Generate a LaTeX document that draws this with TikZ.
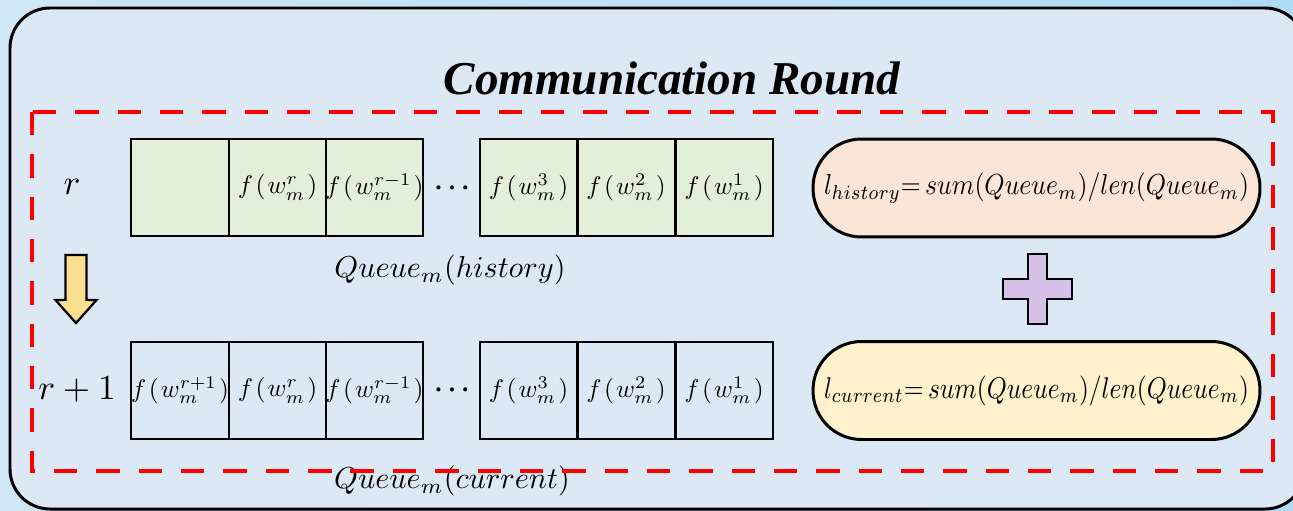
\documentclass[tikz,border=0pt]{standalone}
\usepackage{fontspec}
\newfontfamily\titlefont{Liberation Serif}
\usepackage{graphicx}
\definecolor{outerbgL}{HTML}{CFE6F6}
\definecolor{outerbgR}{HTML}{AEDBF5}
\definecolor{boxfill}{HTML}{DCE9F5}
\definecolor{cellgreen}{HTML}{E2EFDA}
\definecolor{peach}{HTML}{FBE5D6}
\definecolor{cream}{HTML}{FFF2CC}
\definecolor{plusfill}{HTML}{D5C0E8}
\definecolor{arrowfill}{HTML}{FDE08F}
\newcommand{\celltxt}[1]{\makebox[0pt]{\scalebox{1.45}{$#1$}}}
\newcommand{\fw}[1]{\celltxt{f\mkern1.8mu(\mkern1.5mu w_m^{#1}\mkern1.5mu)}}
\newcommand{\rowtxt}[1]{\scalebox{2.0}{$#1$}}
\newcommand{\queuetxt}[1]{\scalebox{1.72}{$#1$}}
\newcommand{\dotstxt}{\scalebox{1.5}{\boldmath$\cdots$}}
\newcommand{\pilltxt}[1]{\resizebox*{8.5cm}{0.6cm}{$#1$}}
\tikzset{
  cell/.style={draw=black, line width=1.4pt, minimum width=1.95cm, minimum height=1.94cm, inner sep=0pt},
  greencell/.style={cell, fill=cellgreen},
  plaincell/.style={cell},
  pill/.style={draw=black, line width=1.7pt, rounded corners=0.97cm, minimum width=8.94cm, minimum height=1.96cm, inner sep=0pt},
  lbl/.style={inner sep=0pt},
  reddash/.style={draw=red, line width=2.8pt, dash pattern=on 13.3pt off 10.8pt},
  shapeline/.style={draw=black, line width=1.3pt, line join=miter},
}
\begin{document}
\begin{tikzpicture}[x=0.02cm,y=-0.02cm]
\useasboundingbox (0,0) rectangle (1293,510);
\begin{scope}
\clip (0,0) rectangle (1293,510);
\shade[left color=outerbgL, right color=outerbgR] (0,0) rectangle (1293,510);
\draw[line width=1.7pt, fill=boxfill, rounded corners=0.8cm] (10,8) rectangle (1305,509);
\end{scope}

\node[lbl, font=\titlefont\bfseries\itshape\fontsize{26.8}{30}\selectfont] (title) at (672,78) {Communication Round};

% top row
\node[greencell] (h1) at (180,187.5) {};
\node[greencell] (h2) at (277.5,187.5) {\fw{r}};
\node[greencell] (h3) at (374.5,187.5) {\fw{r-1}};
\node[lbl] (hd) at (452,188) {\dotstxt};
\node[greencell] (h4) at (528.5,187.5) {\fw{3}};
\node[greencell] (h5) at (626,187.5) {\fw{2}};
\node[greencell] (h6) at (724,187.5) {\fw{1}};

% bottom row
\node[plaincell] (c1) at (180,390.5) {\fw{r+1}};
\node[plaincell] (c2) at (277.5,390.5) {\fw{r}};
\node[plaincell] (c3) at (374.5,390.5) {\fw{r-1}};
\node[lbl] (cd) at (452,390) {\dotstxt};
\node[plaincell] (c4) at (528.5,390.5) {\fw{3}};
\node[plaincell] (c5) at (626,390.5) {\fw{2}};
\node[plaincell] (c6) at (724,390.5) {\fw{1}};

% row labels
\node[lbl] (r) at (72,187) {\rowtxt{r}};
\node[lbl] (r1) at (77,390) {\rowtxt{r+1}};

% queue labels
\node[lbl] (qh) at (450,270) {\queuetxt{Queue_m(history)}};
\node[lbl] (qc) at (452,481) {\queuetxt{Queue_m(current)}};

% pills
\node[pill, fill=peach] (ph) at (1036.5,188) {\pilltxt{l_{history}{=}\,sum(Queue_m)/len(Queue_m)}};
\node[pill, fill=cream] (pc) at (1036.5,390.5) {\pilltxt{l_{current}{=}\,sum(Queue_m)/len(Queue_m)}};

% plus sign
\draw[shapeline, fill=plusfill]
  (1028,254) -- (1047,254) -- (1047,279) -- (1072,279) -- (1072,299) -- (1047,299)
  -- (1047,324) -- (1028,324) -- (1028,299) -- (1003,299) -- (1003,279) -- (1028,279) -- cycle;

% down arrow
\draw[shapeline, fill=arrowfill]
  (65.5,255) -- (86.5,255) -- (86.5,300) -- (96.5,300) -- (76,323) -- (55.5,300) -- (65.5,300) -- cycle;

% red dashed frame
\draw[reddash] (32,112) rectangle (1273,471);
\end{tikzpicture}
\end{document}
